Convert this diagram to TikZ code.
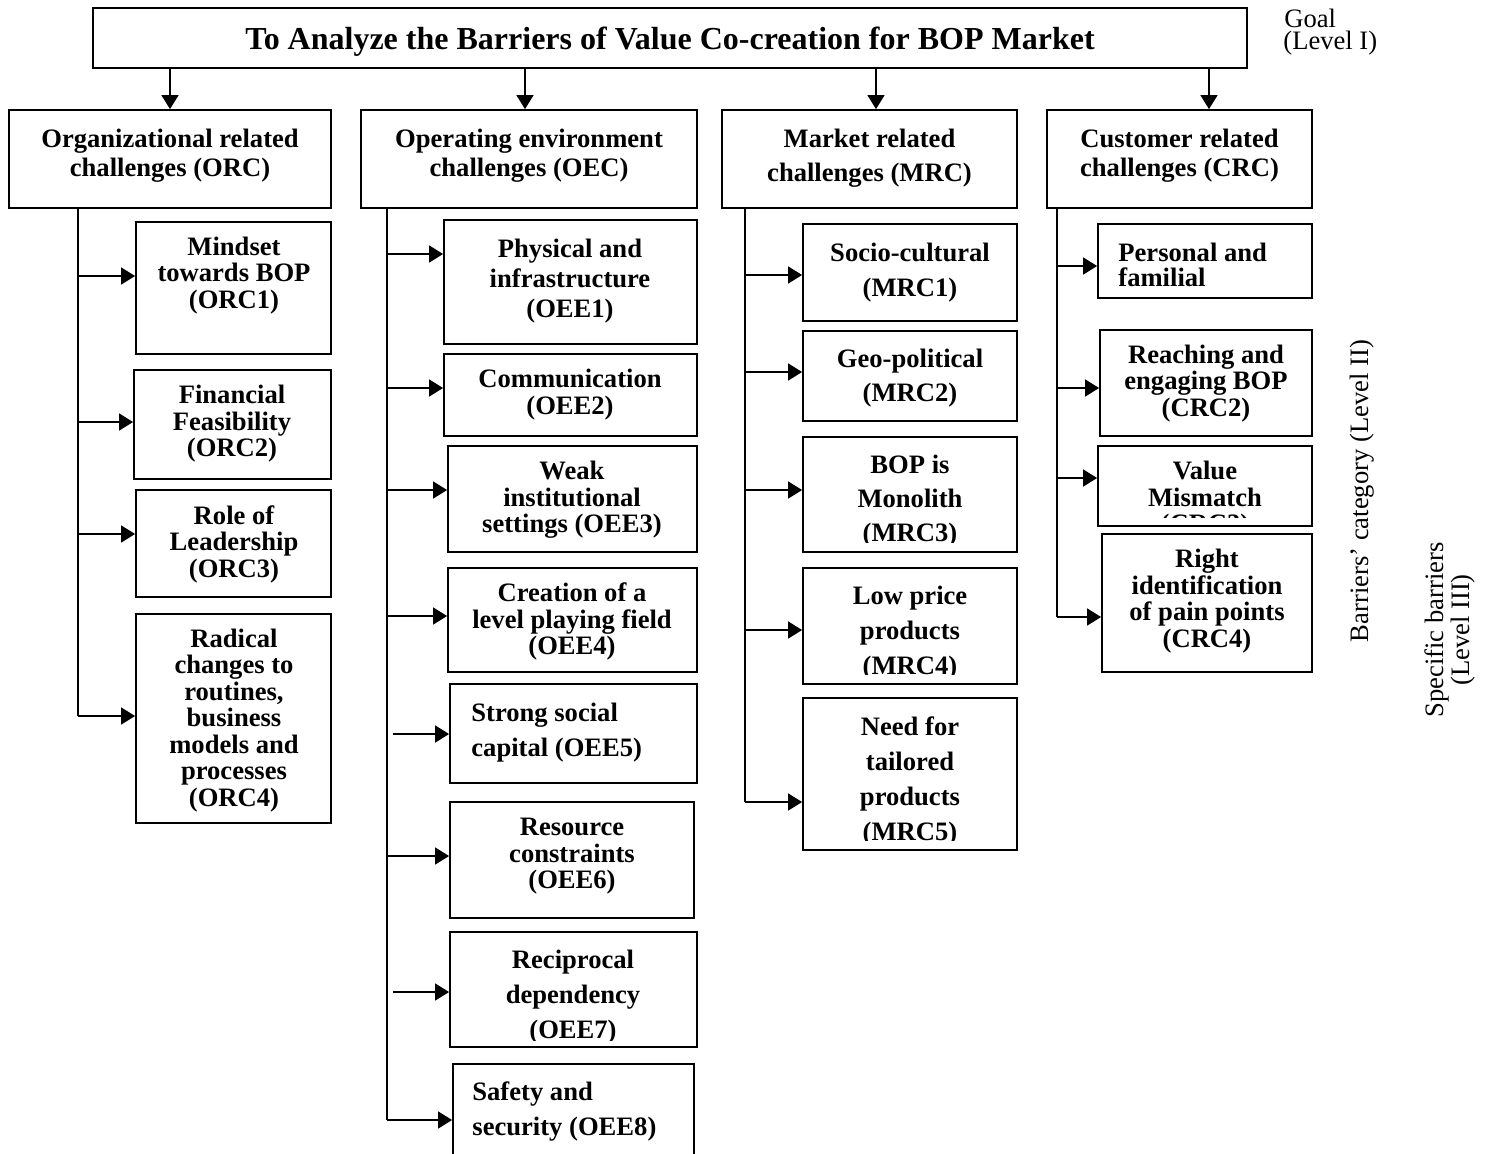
\documentclass[tikz,border=0pt]{standalone}
\usepackage{fontspec}
\setmainfont{Liberation Serif}
\usetikzlibrary{arrows.meta,fit}

% box from (x1,y1) to (x2,y2); text clipped above y = clip
% #1 name, #2 x1, #3 y1, #4 x2, #5 y2, #6 clip y, #7 text position, #8 text options, #9 text
\newcommand\barbox[9]{%
  \coordinate (#1-a) at (#2,#3);
  \coordinate (#1-b) at (#4,#5);
  \node[boxline, fit=(#1-a)(#1-b)] (#1) {};
  \begin{scope}
    \clip (#2,#3) rectangle (#4,#6);
    \node[#8] (#1-t) at (#7) {#9};
  \end{scope}}

\begin{document}
\begin{tikzpicture}[x=0.5pt,y=-0.5pt,
  boxline/.style={draw, line width=0.9pt, inner sep=0pt},
  lab/.style={inner sep=0pt, yshift=-1.5pt, align=center, font=\bfseries\fontsize{13.3}{#1}\selectfont},
  lab/.default=13.25,
  labl/.style={lab=#1, align=left, anchor=west},
  labl/.default=13.25,
  link/.style={line width=0.75pt},
  arr/.style={link, -{Triangle[length=7pt,width=8.5pt]}},
  side/.style={inner sep=0pt, font=\fontsize{13.3}{#1}\selectfont},
]
\useasboundingbox (0,0) rectangle (1488,1153);

% Level I: goal
\barbox{goal}{93}{8}{1247}{68}{68}{670,38}{inner sep=0pt, yshift=-1.8pt, font=\bfseries\fontsize{16}{19}\selectfont}{To Analyze the Barriers of Value Co-creation for BOP Market}

% Level II: categories
\barbox{ORC}{9}{110}{331}{208}{208}{170,152.5}{lab=14.5}{Organizational related\\challenges (ORC)}
\barbox{OEC}{361}{110}{697}{208}{208}{529,152.5}{lab=14.5}{Operating environment\\challenges (OEC)}
\barbox{MRC}{722}{110}{1017}{208}{208}{869.5,155}{lab=17}{Market related\\challenges (MRC)}
\barbox{CRC}{1047}{110}{1312}{208}{208}{1179.5,152.5}{lab=14.5}{Customer related\\challenges (CRC)}

\coordinate (oecTop) at ([xshift=-2pt]OEC.north);
\coordinate (mrcTop) at ([xshift=3.25pt]MRC.north);
\coordinate (crcTop) at ([xshift=14.75pt]CRC.north);
\draw[arr] (goal.south -| ORC.north) -- (ORC.north);
\draw[arr] (oecTop |- goal.south) -- (oecTop);
\draw[arr] (mrcTop |- goal.south) -- (mrcTop);
\draw[arr] (crcTop |- goal.south) -- (crcTop);

% Level III: organizational
\barbox{ORC1}{136}{222}{331}{354}{354}{234,272.5}{lab}{Mindset\\towards BOP\\(ORC1)}
\barbox{ORC2}{134}{370}{331}{479}{479}{232,421}{lab}{Financial\\Feasibility\\(ORC2)}
\barbox{ORC3}{136}{490}{331}{597}{597}{234,541}{lab}{Role of\\Leadership\\(ORC3)}
\barbox{ORC4}{136}{614}{331}{823}{823}{234,717.5}{lab}{Radical\\changes to\\routines,\\business\\models and\\processes\\(ORC4)}

% Level III: operating environment
\barbox{OEC1}{444}{220}{697}{344}{344}{570,278}{lab=15}{Physical and\\infrastructure\\(OEE1)}
\barbox{OEC2}{444}{354}{697}{436}{436}{570,391.5}{lab=13.5}{Communication\\(OEE2)}
\barbox{OEC3}{448}{446}{697}{552}{552}{572,497}{lab}{Weak\\institutional\\settings (OEE3)}
\barbox{OEC4}{448}{568}{697}{672}{672}{572,618.5}{lab}{Creation of a\\level playing field\\(OEE4)}
\barbox{OEC5}{450}{684}{697}{783}{783}{471,729.5}{labl=17.5}{Strong social\\capital (OEE5)}
\barbox{OEC6}{450}{802}{694}{918}{918}{572,853.5}{lab}{Resource\\constraints\\(OEE6)}
\barbox{OEC7}{450}{932}{697}{1047}{1040}{573,994.5}{lab=17.5}{Reciprocal\\dependency\\(OEE7)}
\barbox{OEC8}{453}{1064}{694}{1175}{1175}{472,1108.5}{labl=17.5}{Safety and\\security (OEE8)}

% Level III: market
\barbox{MRC1}{803}{224}{1017}{321}{321}{910,269.5}{lab=17.5}{Socio-cultural\\(MRC1)}
\barbox{MRC2}{803}{331}{1017}{421}{421}{910,375}{lab=17}{Geo-political\\(MRC2)}
\barbox{MRC3}{803}{437}{1017}{552}{542}{910,498}{lab=17}{BOP is\\Monolith\\(MRC3)}
\barbox{MRC4}{803}{568}{1017}{684}{674}{910,630.5}{lab=17.5}{Low price\\products\\(MRC4)}
\barbox{MRC5}{803}{698}{1017}{850}{840}{910,778}{lab=17.5}{Need for\\tailored\\products\\(MRC5)}

% Level III: customer
\barbox{CRC1}{1098}{224}{1312}{298}{298}{1118,261.5}{labl=12.5}{Personal and\\familial}
\barbox{CRC2}{1100}{330}{1312}{436}{436}{1206,380.5}{lab}{Reaching and\\engaging BOP\\(CRC2)}
\barbox{CRC3}{1098}{446}{1312}{526}{517}{1205,497}{lab}{Value\\Mismatch\\(CRC3)}
\barbox{CRC4}{1102}{534}{1312}{672}{672}{1207,598}{lab}{Right\\identification\\of pain points\\(CRC4)}

% trunks and branches
\foreach \n/\y in {1/276,2/422,3/534,4/716}{
  \coordinate (ob\n) at (78,\y);
  \draw[arr] (ob\n) -- (ob\n -| ORC\n.west);}
\draw[link] (ORC.south -| ob1) -- (ob4);

\foreach \n/\x/\y in {1/387/254,2/387/388,3/387/490,4/387/616,5/393/734,6/387/856,7/393/992,8/387/1120}{
  \coordinate (eb\n) at (\x,\y);
  \draw[arr] (eb\n) -- (eb\n -| OEC\n.west);}
\draw[link] (OEC.south -| eb1) -- (eb8);

\foreach \n/\y in {1/275,2/372,3/490,4/630,5/802}{
  \coordinate (mb\n) at (745,\y);
  \draw[arr] (mb\n) -- (mb\n -| MRC\n.west);}
\draw[link] (MRC.south -| mb1) -- (mb5);

\foreach \n/\y in {1/266,2/388,3/478,4/617}{
  \coordinate (cb\n) at (1057,\y);
  \draw[arr] (cb\n) -- (cb\n -| CRC\n.west);}
\draw[link] (CRC.south -| cb1) -- (cb4);

% level captions
\node[side=10, anchor=base west] (lv1a) at (1284,27) {Goal};
\node[side=10, anchor=base west] (lv1b) at (1283,49) {(Level I)};
\node[side=13, rotate=90] (lv2) at (1362,491) {Barriers’ category (Level II)};
\node[side=13, rotate=90, align=center] (lv3) at (1450,630) {Specific barriers\\(Level III)};
\end{tikzpicture}
\end{document}
